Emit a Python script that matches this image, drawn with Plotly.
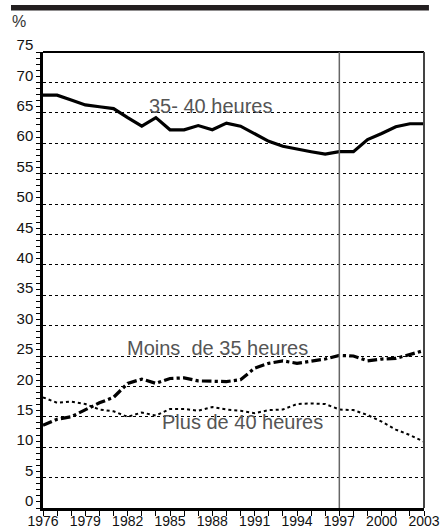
import plotly.graph_objects as go

years = list(range(1976, 2004))
h35_40 = [67.9, 67.9, 67.1, 66.3, 66.0, 65.7, 64.2, 62.8, 64.2, 62.2, 62.2, 62.9, 62.2, 63.3,
          62.8, 61.5, 60.3, 59.5, 59.0, 58.6, 58.2, 58.6, 58.6, 60.6, 61.6, 62.7, 63.2, 63.2]
moins35 = [13.6, 14.6, 15.0, 16.2, 17.3, 18.2, 20.5, 21.2, 20.5, 21.3, 21.4, 20.9, 20.9, 20.8,
           21.1, 23.0, 23.8, 24.2, 23.8, 24.1, 24.5, 25.1, 25.0, 24.2, 24.5, 24.6, 25.3, 25.9]
plus40 = [18.2, 17.3, 17.5, 17.1, 16.2, 15.9, 15.0, 15.7, 15.2, 16.3, 16.3, 16.0, 16.6, 16.2,
          16.0, 15.6, 16.1, 16.2, 17.1, 17.2, 17.1, 16.2, 16.1, 15.3, 14.2, 12.9, 12.0, 10.9]
x_ticks = list(range(1976, 2004, 3))
y_ticks = list(range(0, 80, 5))
labels = ["35- 40 heures", "Moins  de 35 heures", "Plus de 40 heures"]
label_pos = [(1983.4, 66.2), (1981.8, 26.3), (1984.3, 14.1)]
ref_year = 1997

FONT = "Liberation Sans, Arial, sans-serif"

fig = go.Figure()
fig.add_trace(go.Scatter(x=years, y=h35_40, mode="lines",
                         line=dict(color="#000000", width=3.2), name=labels[0]))
fig.add_trace(go.Scatter(x=years, y=moins35, mode="lines",
                         line=dict(color="#000000", width=3.2, dash="dashdot"), name=labels[1]))
fig.add_trace(go.Scatter(x=years, y=plus40, mode="lines",
                         line=dict(color="#000000", width=2, dash="dot"), name=labels[2]))

for txt, (lx, ly) in zip(labels, label_pos):
    fig.add_annotation(x=lx, y=ly, xref="x", yref="y", text=txt, showarrow=False,
                       xanchor="left", yanchor="middle",
                       font=dict(family=FONT, size=20, color="#555555"))

fig.add_annotation(x=-0.062, y=1.066, xref="paper", yref="paper", text="%", showarrow=False,
                   xanchor="center", yanchor="middle",
                   font=dict(family=FONT, size=16, color="#333333"))

# top dark bar
fig.add_shape(type="rect", xref="paper", yref="paper", x0=-0.084, x1=1.013, y0=1.091, y1=1.103,
              fillcolor="#231f20", line=dict(width=0))
# top border and right border
fig.add_shape(type="line", xref="paper", yref="paper", x0=0, x1=1, y0=1, y1=1,
              line=dict(color="#000000", width=2))
fig.add_shape(type="line", xref="paper", yref="paper", x0=1, x1=1, y0=0, y1=1,
              line=dict(color="#444444", width=2))
# reference vertical line
fig.add_shape(type="line", xref="x", yref="paper", x0=ref_year, x1=ref_year, y0=0, y1=1,
              line=dict(color="#666666", width=1.5))

fig.update_layout(
    width=441, height=531,
    margin=dict(l=43, r=17, t=52, b=23, autoexpand=False),
    paper_bgcolor="white", plot_bgcolor="white",
    showlegend=False,
    xaxis=dict(range=[1976, 2003], tickvals=x_ticks, ticktext=[str(v) for v in x_ticks],
               showgrid=False, zeroline=False, automargin=False,
               showline=True, linecolor="#000000", linewidth=2.5,
               ticks="outside", ticklen=5, tickwidth=1.2, tickcolor="#000000",
               minor=dict(dtick=1, tick0=1976, ticks="outside", ticklen=5, tickwidth=1.2,
                          tickcolor="#000000", showgrid=False),
               ticklabelstandoff=-7,
               tickfont=dict(family=FONT, size=14, color="#111111"),
               fixedrange=True),
    yaxis=dict(range=[0, 75], tickvals=y_ticks, ticktext=[str(v) for v in y_ticks],
               showgrid=True, gridcolor="#000000", gridwidth=1, griddash="dot",
               zeroline=False, automargin=False,
               showline=True, linecolor="#000000", linewidth=2.5,
               ticks="outside", ticklen=4, tickwidth=1.2, tickcolor="#000000",
               minor=dict(dtick=1, tick0=0, ticks="outside", ticklen=4, tickwidth=1.2,
                          tickcolor="#000000", showgrid=False),
               ticklabelshift=-7,
               tickfont=dict(family=FONT, size=15, color="#111111"),
               fixedrange=True),
)

fig.write_html("out.html", config={"displayModeBar": False},
               post_script="document.body.style.margin='0';document.body.style.overflow='hidden';")
